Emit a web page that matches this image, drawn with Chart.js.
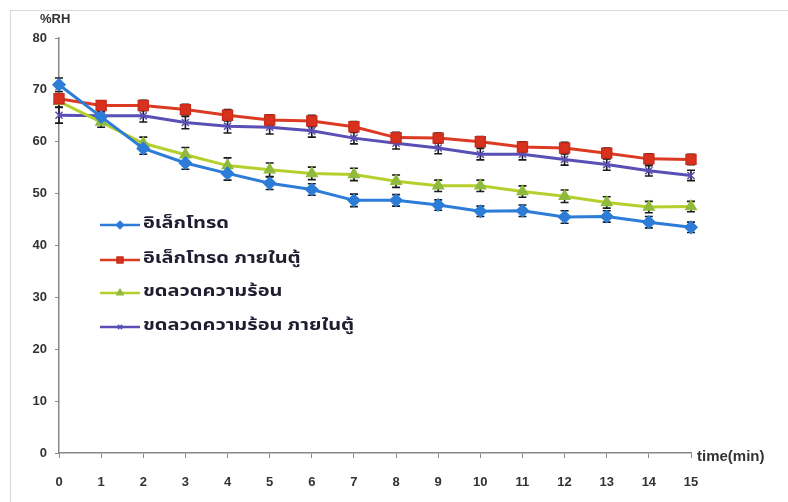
<!DOCTYPE html>
<html>
<head>
<meta charset="utf-8">
<script src="https://cdn.jsdelivr.net/npm/chart.js@4"></script>
<style>
  body { margin: 0; background: #fff; }
  canvas { display: block; }
</style>
</head>
<body>
<canvas id="c" width="788" height="502"></canvas>
<script>
const times = ['0','1','2','3','4','5','6','7','8','9','10','11','12','13','14','15']

const electrode      = [71, 64.8, 58.7, 55.9, 53.9, 52, 50.8, 48.7, 48.7, 47.8, 46.6, 46.7, 45.5, 45.6, 44.5, 43.5]
const electrodeBox   = [68.3, 67, 67, 66.2, 65.1, 64.2, 64, 62.9, 60.8, 60.7, 60, 59, 58.8, 57.8, 56.7, 56.6]
const heater         = [67.8, 63.8, 59.7, 57.5, 55.4, 54.6, 53.9, 53.7, 52.4, 51.5, 51.5, 50.4, 49.5, 48.3, 47.4, 47.5]
const heaterBox      = [65.1, 65, 65, 63.7, 63, 62.8, 62.1, 60.7, 59.7, 58.8, 57.6, 57.6, 56.6, 55.6, 54.4, 53.5]

const electrodeErr    = [1.3, 1, 1.1, 1.2, 1.3, 1.2, 1.1, 1.2, 1.1, 1, 1, 1.1, 1.2, 1.1, 1.1, 1]
const electrodeBoxErr = [1, 0.9, 1, 1, 1.1, 1, 1.1, 1, 1, 1, 1, 1, 1.1, 1, 1, 1]
const heaterErr       = [1.1, 1, 1.2, 1.4, 1.5, 1.3, 1.2, 1.2, 1.2, 1.1, 1.1, 1.1, 1.2, 1.1, 1.1, 1]
const heaterBoxErr    = [1.5, 1.1, 1.2, 1.2, 1.3, 1.3, 1.2, 1.1, 1.1, 1.1, 1.1, 1.1, 1.1, 1.1, 1, 1]

const yTicks = [0, 10, 20, 30, 40, 50, 60, 70, 80]

const errorBars = {
    id: 'errorBars',
    beforeDatasetsDraw(chart) {
        const ctx = chart.ctx
        const y = chart.scales.y
        ctx.save()
        ctx.strokeStyle = '#1a1a1a'
        ctx.lineWidth = 1.6
        chart.data.datasets.forEach((ds, i) => {
            const meta = chart.getDatasetMeta(i)
            meta.data.forEach((pt, j) => {
                const v = ds.data[j], e = ds.err[j]
                const top = y.getPixelForValue(v + e)
                const bot = y.getPixelForValue(v - e)
                ctx.beginPath()
                ctx.moveTo(pt.x, top); ctx.lineTo(pt.x, bot)
                ctx.moveTo(pt.x - 4, top); ctx.lineTo(pt.x + 4, top)
                ctx.moveTo(pt.x - 4, bot); ctx.lineTo(pt.x + 4, bot)
                ctx.stroke()
            })
        })
        ctx.restore()
    }
}

const extras = {
    id: 'extras',
    afterDraw(chart) {
        const ctx = chart.ctx
        const area = chart.chartArea
        ctx.save()
        // faint frame
        ctx.strokeStyle = '#d8d8d8'
        ctx.lineWidth = 1
        ctx.strokeRect(10.5, 10.5, 800, 520)
        // axis captions
        ctx.fillStyle = '#333'
        ctx.font = 'bold 13px "Liberation Sans", Arial, sans-serif'
        ctx.textBaseline = 'middle'
        ctx.textAlign = 'left'
        ctx.fillText('%RH', area.left - 19, area.top - 19)
        ctx.font = 'bold 15px "Liberation Sans Narrow", "Liberation Sans", sans-serif'
        ctx.fillText('time(min)', area.right + 6, area.bottom + 4)
        // legend
        const rows = [225, 260, 293, 327]
        chart.data.datasets.forEach((ds, i) => {
            const yy = rows[i]
            ctx.strokeStyle = ds.borderColor
            ctx.lineWidth = 2.5
            ctx.beginPath()
            ctx.moveTo(100, yy); ctx.lineTo(140, yy)
            ctx.stroke()
            ctx.fillStyle = ds.pointBackgroundColor
            ctx.strokeStyle = ds.pointBorderColor
            ctx.lineWidth = 1.5
            Chart.helpers.drawPoint(ctx, {pointStyle: ds.pointStyle, radius: ds.pointRadius * 0.6, rotation: 0, borderWidth: 1.5}, 120, yy)
            ctx.fillStyle = '#1e1e30'
            ctx.font = 'bold 16px "Noto Sans Thai", "Noto Sans", sans-serif'
            ctx.textAlign = 'left'
            ctx.save()
            ctx.translate(143, yy)
            ctx.scale(1.25, 1)
            ctx.fillText(ds.label, 0, 0)
            ctx.restore()
        })
        ctx.restore()
    }
}

new Chart(document.getElementById('c').getContext('2d'), {
    type: 'line',
    data: {
        labels: times,
        datasets: [
            {label: 'อิเล็กโทรด', data: electrode, err: electrodeErr, borderColor: '#2c7cd8', pointBackgroundColor: '#2c7cd8', pointBorderColor: '#2c7cd8', pointStyle: 'rectRot', pointRadius: 6},
            {label: 'อิเล็กโทรด ภายในตู้', data: electrodeBox, err: electrodeBoxErr, borderColor: '#dc3a22', pointBackgroundColor: '#d8321f', pointBorderColor: '#c92d1a', pointStyle: 'rect', pointRadius: 7},
            {label: 'ขดลวดความร้อน', data: heater, err: heaterErr, borderColor: '#b5d02c', pointBackgroundColor: '#8fba3c', pointBorderColor: '#8fba3c', pointStyle: 'triangle', pointRadius: 6},
            {label: 'ขดลวดความร้อน ภายในตู้', data: heaterBox, err: heaterBoxErr, borderColor: '#5a4fb5', pointBackgroundColor: '#5a4fb5', pointBorderColor: '#5a4fb5', pointStyle: 'crossRot', pointRadius: 5}
        ]
    },
    options: {
        responsive: false,
        animation: false,
        layout: {padding: {left: 10, top: 38, right: 97, bottom: 0}},
        elements: {
            line: {borderWidth: 3, tension: 0},
            point: {borderWidth: 1.5}
        },
        plugins: {legend: {display: false}, tooltip: {enabled: false}},
        scales: {
            x: {
                offset: false,
                grid: {drawOnChartArea: false, drawTicks: true, tickLength: 5, color: '#888', offset: false},
                border: {display: true, color: '#888', width: 1.5},
                ticks: {color: '#333', font: {weight: 'bold', size: 13}, padding: 17, maxRotation: 0, autoSkip: false},
                afterFit: (s) => { s.height = 49 }
            },
            y: {
                min: 0, max: 80,
                afterBuildTicks: (s) => { s.ticks = yTicks.map(v => ({value: v})) },
                grid: {drawOnChartArea: false, drawTicks: true, tickLength: 4, color: '#888'},
                border: {display: true, color: '#888', width: 1.5},
                ticks: {color: '#333', font: {weight: 'bold', size: 13}, padding: 8},
                afterFit: (s) => { s.width = 49 }
            }
        }
    },
    plugins: [errorBars, extras]
})
</script>
</body>
</html>
